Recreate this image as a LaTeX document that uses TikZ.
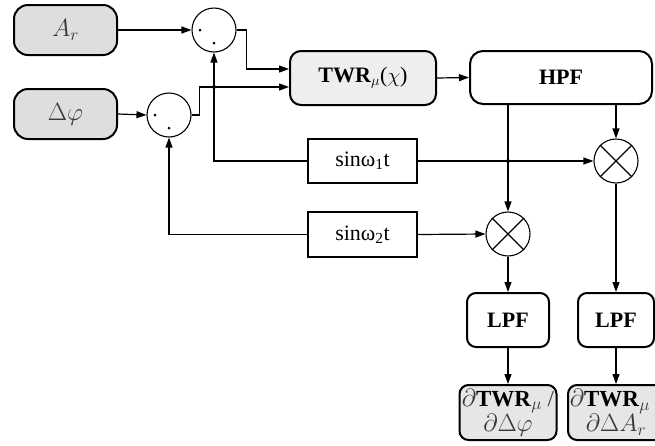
\documentclass[tikz,border=0pt]{standalone}
\usepackage{fontspec}
\setmainfont{Liberation Serif}
\usetikzlibrary{arrows.meta}
\definecolor{boxgray}{HTML}{DEDEDE}
\definecolor{twrgray}{HTML}{EEEEEE}
\definecolor{outgray}{HTML}{E6E6E6}
\definecolor{txtgray}{HTML}{383838}
\tikzset{
  base/.style={font=\fontsize{22}{25}\selectfont, inner sep=0pt},
  inbox/.style={base, font=\fontsize{25}{28}\selectfont, draw, line width=2pt, rounded corners=14pt, fill=boxgray, text=txtgray, minimum width=103pt, minimum height=50pt},
  blockbox/.style={base, draw, line width=2pt, rounded corners=11pt, minimum height=54pt},
  sinbox/.style={base, draw, line width=2pt, minimum width=109pt, minimum height=44pt},
  sumcirc/.style={draw, circle, line width=1.1pt, minimum size=44pt, inner sep=0pt},
  outbox/.style={base, font=\fontsize{23}{25}\selectfont, draw, line width=2pt, rounded corners=9pt, fill=outgray, minimum width=97pt, minimum height=55pt, align=center},
  conn/.style={line width=1.2pt, -{Triangle[length=10pt,width=7pt]}},
  wire/.style={line width=1.1pt},
  jdot/.style={fill, circle, inner sep=0pt, minimum size=4pt},
}
\begin{document}
\begin{tikzpicture}[x=1pt,y=-1pt]
\useasboundingbox (0,0) rectangle (655,445);
\clip (0,0) rectangle (655,445);
% inputs
\node[inbox] (ar) at (65.5,30) {$A_r$};
\node[inbox] (dphi) at (65.5,114) {$\Delta\varphi$};
% summers
\node[sumcirc] (sum1) at (214,30) {};
\node[sumcirc] (sum2) at (169,115) {};
\node[jdot, minimum size=3pt] (s1a) at (200,30) {};
\node[jdot, minimum size=3pt] (s1b) at (214,43) {};
\node[jdot, minimum size=3pt] (s2a) at (155,115) {};
\node[jdot, minimum size=3pt] (s2b) at (169,128) {};
% main blocks
\node[blockbox, fill=twrgray, minimum width=146pt] (twr) at (363,78) {\textbf{TWR}$_\mu$($\chi$)};
\node[blockbox, minimum width=182pt, minimum height=53pt, rounded corners=13pt] (hpf) at (561,77.5) {\textbf{HPF}};
% modulation
\node[sinbox] (sin1) at (362.5,161) {sinω\textsubscript{1}t};
\node[sinbox, minimum height=45pt] (sin2) at (362.5,234.5) {sinω\textsubscript{2}t};
% multipliers
\node[sumcirc] (mul1) at (616,161) {};
\node[sumcirc] (mul2) at (508,234) {};
\draw[wire] (mul1.north east) -- (mul1.south west) (mul1.north west) -- (mul1.south east);
\draw[wire] (mul2.north east) -- (mul2.south west) (mul2.north west) -- (mul2.south east);
% LPF
\node[blockbox, minimum width=82pt, rounded corners=9pt] (lpf1) at (508,320) {\textbf{LPF}};
\node[blockbox, minimum width=76pt, rounded corners=9pt] (lpf2) at (616,320) {\textbf{LPF}};
% outputs
\node[outbox] (out1) at (508,412.5) {\textcolor{txtgray}{$\partial$}\textbf{TWR}\textcolor{txtgray}{$_\mu$ /}\\\textcolor{txtgray}{$\partial\Delta\varphi$}};
\node[outbox, minimum width=96pt] (out2) at (616,412.5) {\textcolor{txtgray}{$\partial$}\textbf{TWR}\textcolor{txtgray}{$_\mu$ /}\\\textcolor{txtgray}{$\partial\Delta A_r$}};
% connectors
\draw[conn] (ar.east) -- (sum1.west);
\draw[conn] (dphi.east) -- (sum2.west);
\draw[conn] (sum1.east) -- ++(10,0) |- ([yshift=9pt]twr.west);
\draw[conn] (sum2.east) -- ++(8,0) |- ([yshift=-9pt]twr.west);
\draw[conn] (sin1.west) -| (sum1.south);
\draw[conn] (sin2.west) -| (sum2.south);
\draw[conn] (twr.east) -- (hpf.west);
\draw[conn] (sin1.east) -- (mul1.west);
\draw[conn] (sin2.east) -- (mul2.west);
\draw[conn] (mul2.north |- hpf.south) -- (mul2.north);
\draw[conn] (mul1.north |- hpf.south) -- (mul1.north);
\draw[conn] (mul2.south) -- (lpf1.north);
\draw[conn] (mul1.south) -- (lpf2.north);
\draw[conn] (lpf1.south) -- (out1.north);
\draw[conn] (lpf2.south) -- (out2.north);
% crossing dots
\node[jdot] (j1) at (214,87) {};
\node[jdot] (j2) at (508,161) {};
\end{tikzpicture}
\end{document}
